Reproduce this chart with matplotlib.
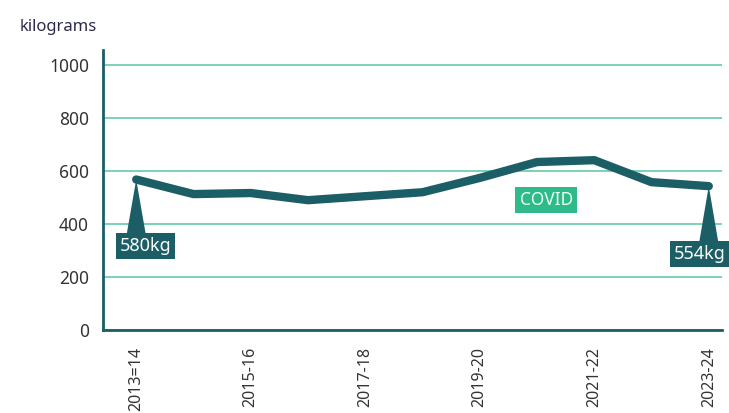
import matplotlib.pyplot as plt

years = ['2013=14', '2014-15', '2015-16', '2016-17', '2017-18', '2018-19',
         '2019-20', '2020-21', '2021-22', '2022-23', '2023-24']
kilograms = [568, 513, 517, 490, 505, 520, 574, 634, 641, 558, 543]
tick_labels = ['2013=14', '2015-16', '2017-18', '2019-20', '2021-22', '2023-24']
yticks = [0, 200, 400, 600, 800, 1000]

dark = '#1b5e66'
grid_green = '#6fcfae'

plt.rcParams['font.family'] = ['Noto Sans', 'DejaVu Sans']

fig = plt.figure(figsize=(7.29, 4.13), dpi=100)
ax = fig.add_axes([0.1413, 0.201, 0.849, 0.678])

x = list(range(len(years)))
ax.plot(x, kilograms, color=dark, linewidth=6, solid_capstyle='round',
        solid_joinstyle='round', zorder=3)

ax.set_xlim(-0.58, 10.23)
ax.set_ylim(0, 1057)
ax.set_yticks(yticks)
ax.set_yticklabels([str(v) for v in yticks], fontsize=12.5, color='#333333')
ax.set_xticks([years.index(t) for t in tick_labels])
ax.set_xticklabels(tick_labels, rotation=90, fontsize=11.5, color='#333333')
ax.tick_params(axis='both', length=0, pad=10)
ax.tick_params(axis='x', pad=12)
ax.grid(axis='y', color=grid_green, linewidth=1.3)
ax.set_axisbelow(True)

for s in ['top', 'right']:
    ax.spines[s].set_visible(False)
for s in ['left', 'bottom']:
    ax.spines[s].set_color(dark)
    ax.spines[s].set_linewidth(2)

fig.text(0.027, 0.935, 'kilograms', fontsize=12, color='#2b2b4b', va='center')

# callouts: triangle from point to label box
def callout(i, label, box_x, box_y, half=0.17):
    px, py = x[i], kilograms[i]
    ax.fill([px, px - half, px + half], [py, box_y + 40, box_y + 40],
            color=dark, zorder=4, linewidth=0)
    ax.text(box_x, box_y, label, fontsize=13, color='white', ha='center',
            va='center', zorder=5,
            bbox=dict(boxstyle='square,pad=0.22', fc=dark, ec='none'))

callout(0, '580kg', 0.16, 317)
callout(10, '554kg', 9.84, 287)

ax.text(7.16, 491, 'COVID', fontsize=12.5, color='#eafff5', ha='center', va='center',
        zorder=5, bbox=dict(boxstyle='square,pad=0.25', fc='#2fba8a', ec='none'))

fig.savefig('out.png', dpi=100)
